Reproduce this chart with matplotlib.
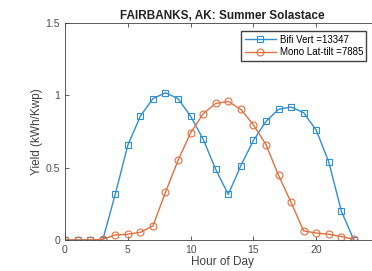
import matplotlib

matplotlib.use("Agg")
import matplotlib.pyplot as plt

hours = list(range(24))
bifi_vert = [0, 0, 0, 0, 0.315, 0.655, 0.856, 0.977, 1.018, 0.977, 0.856, 0.697,
             0.488, 0.315, 0.514, 0.688, 0.82, 0.903, 0.919, 0.88, 0.76, 0.54, 0.2, 0]
mono_lat = [0, 0, 0, 0.005, 0.035, 0.04, 0.053, 0.097, 0.33, 0.55, 0.74, 0.873,
            0.944, 0.958, 0.903, 0.797, 0.66, 0.447, 0.26, 0.063, 0.048, 0.04, 0.023, 0.005]
labels = ["Bifi Vert =13347", "Mono Lat-tilt =7885"]

plt.rcParams["font.family"] = ["Liberation Sans", "DejaVu Sans"]

fig = plt.figure(figsize=(3.72, 2.71), dpi=100)
ax = fig.add_axes([65 / 372, 31 / 271, 314 / 372, 217 / 271])

ax.plot(hours, bifi_vert, color="#2f8fd0", marker="s", mfc="none", ms=4.5, lw=1, mew=0.8, label=labels[0])
ax.plot(hours, mono_lat, color="#e2703f", marker="o", mfc="none", ms=5, lw=1, mew=0.8, label=labels[1])

# axis runs to 25 but the right part is cut off by the figure edge
ax.set_xlim(0, 25)
ax.set_ylim(0, 1.5)
ax.set_xticks([0, 5, 10, 15, 20])
ax.set_yticks([0, 0.5, 1, 1.5])
ax.set_yticklabels(["0", "0.5", "1", "1.5"])
ax.tick_params(direction="in", top=True, right=True, labelsize=7.5, colors="#404040",
               labelcolor="#4d4d4d", length=3, width=0.6)
for s in ax.spines.values():
    s.set_color("#404040")
    s.set_linewidth(0.6)

ax.set_title("FAIRBANKS, AK: Summer Solastace", fontsize=8.5, fontweight="bold", pad=3, color="#222222")
ax.set_xlabel("Hour of Day", fontsize=8.5, color="#404040", labelpad=1)
ax.set_ylabel("Yield (kWh/Kwp)", fontsize=8.5, color="#404040", labelpad=2)
ax.legend(loc="upper right", bbox_to_anchor=(0.975, 0.985), fontsize=7, frameon=True,
          fancybox=False, edgecolor="#404040", framealpha=1, handlelength=3.2,
          borderpad=0.35, labelspacing=0.3, handletextpad=0.4)

fig.savefig("out.png", dpi=100)
